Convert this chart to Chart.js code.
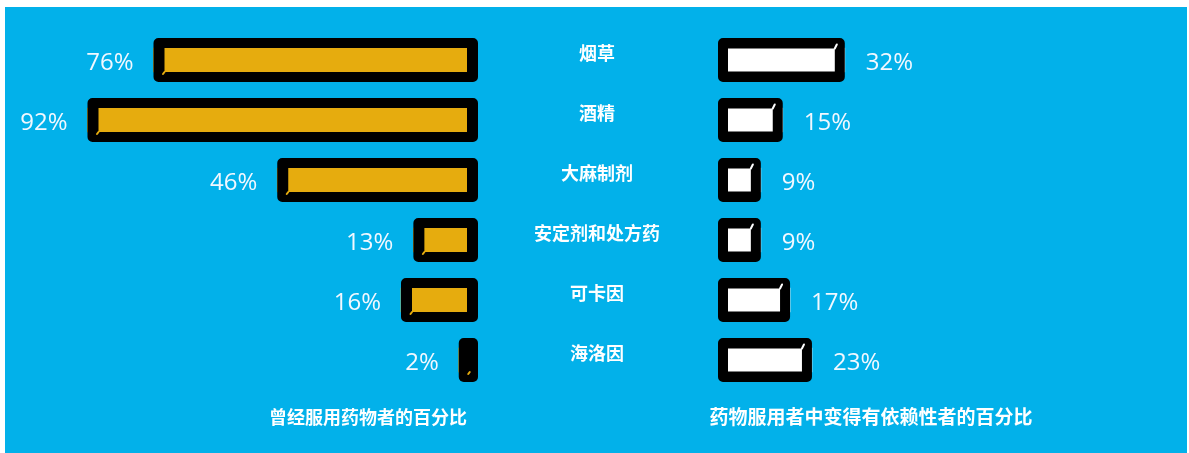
<!DOCTYPE html>
<html lang="zh-CN">
<head>
<meta charset="utf-8">
<title>药物使用与依赖</title>
<script src="https://cdn.jsdelivr.net/npm/chart.js@4.4.1/dist/chart.umd.min.js"></script>
<style>
  html, body { margin: 0; padding: 0; background: #ffffff; }
  body { width: 1189px; height: 453px; position: relative; overflow: hidden; }
  #panel { position: absolute; left: 5px; top: 7px; width: 1182px; height: 446px; background: #02b1ea; }
  canvas { position: absolute; top: 7px; }
  #leftCanvas { left: 5px; }
  #rightCanvas { left: 520px; }
</style>
</head>
<body>
<div id="panel"></div>
<canvas id="leftCanvas" width="515" height="446"></canvas>
<canvas id="rightCanvas" width="667" height="446"></canvas>
<script>
// Drug categories, top to bottom
const categories = ['烟草', '酒精', '大麻制剂', '安定剂和处方药', '可卡因', '海洛因'];
// Share of people who have ever used each drug (%)
const everUsed = [76, 92, 46, 13, 16, 2];
// Share of users who became dependent (%)
const dependent = [32, 15, 9, 9, 17, 23];
const leftTitle = '曾经服用药物者的百分比';
const rightTitle = '药物服用者中变得有依赖性者的百分比';

const ORANGE = '#e6ac0e';
const INK = '#000000';
const LABEL_FONT = "400 24px 'Open Sans', 'DejaVu Sans', sans-serif";
const CJK_FONT = "bold 18px 'Noto Sans CJK SC', sans-serif";

Chart.defaults.font.family = "'Noto Sans CJK SC', sans-serif";

// Thick marker-style frame around each bar plus its percentage label
const markerFrame = {
  id: 'markerFrame',
  afterDatasetsDraw(chart, args, opts) {
    const ctx = chart.ctx;
    const meta = chart.getDatasetMeta(0);
    const values = chart.data.datasets[0].data;
    meta.data.forEach((el, i) => {
      const lo = Math.min(el.x, el.base);
      const hi = Math.max(el.x, el.base);
      const y = el.y;
      let ox0, ox1, ix0, ix1;
      if (opts.side === 'left') {
        ox0 = lo; ox1 = hi + opts.cap;
        ix0 = lo + opts.inset; ix1 = hi;
      } else {
        ox0 = lo - opts.cap; ox1 = hi;
        ix0 = lo; ix1 = hi - opts.inset;
      }
      ctx.save();
      ctx.beginPath();
      ctx.roundRect(ox0, y - opts.outerHalf, ox1 - ox0, opts.outerHalf * 2, 5);
      if (ix1 - ix0 > 0) {
        ctx.rect(ix0, y - opts.innerHalf, ix1 - ix0, opts.innerHalf * 2);
      }
      ctx.fillStyle = INK;
      ctx.fill('evenodd');

      // little flick of the fill colour where the marker stroke starts
      ctx.strokeStyle = opts.fleck;
      ctx.lineWidth = 2;
      ctx.lineCap = 'round';
      ctx.beginPath();
      if (opts.side === 'left') {
        const fx = Math.min(ox0 + opts.inset, ox1 - 6);
        ctx.moveTo(fx, y + opts.innerHalf);
        ctx.lineTo(fx - 1.5, y + opts.innerHalf + 2);
      } else {
        ctx.moveTo(ix1, y - opts.innerHalf);
        ctx.lineTo(ix1 + 2, y - opts.innerHalf - 4);
      }
      ctx.stroke();

      // percentage label
      ctx.font = LABEL_FONT;
      ctx.fillStyle = '#f2f8ff';
      ctx.textBaseline = 'middle';
      if (opts.side === 'left') {
        ctx.textAlign = 'right';
        ctx.fillText(values[i] + '%', ox0 - 20, y + 3);
      } else {
        ctx.textAlign = 'left';
        ctx.fillText(values[i] + '%', ox1 + 21, y + 3);
      }
      ctx.restore();
    });

    // category names between the two bar groups
    if (opts.categoryX != null) {
      const yScale = chart.scales.y;
      ctx.save();
      ctx.font = CJK_FONT;
      ctx.fillStyle = '#ffffff';
      ctx.textAlign = 'center';
      ctx.textBaseline = 'middle';
      chart.data.labels.forEach((lab, i) => {
        ctx.fillText(lab, opts.categoryX, yScale.getPixelForValue(i) - 7);
      });
      ctx.restore();
    }

    // panel title under the bars
    ctx.save();
    ctx.font = opts.titleFont;
    ctx.fillStyle = '#ffffff';
    ctx.textAlign = 'center';
    ctx.textBaseline = 'middle';
    ctx.fillText(opts.title, opts.titleX, opts.titleY);
    ctx.restore();
  }
};

function barChart(canvasId, values, color, xOpts, padding, frameOpts) {
  return new Chart(document.getElementById(canvasId), {
    type: 'bar',
    data: {
      labels: categories,
      datasets: [{
        data: values,
        backgroundColor: color,
        borderWidth: 0,
        barThickness: 24
      }]
    },
    options: {
      indexAxis: 'y',
      responsive: false,
      animation: false,
      devicePixelRatio: 1,
      layout: { padding },
      scales: {
        x: Object.assign({ display: false, min: 0 }, xOpts),
        y: { display: false, offset: true }
      },
      plugins: {
        legend: { display: false },
        tooltip: { enabled: false },
        markerFrame: frameOpts
      }
    },
    plugins: [markerFrame]
  });
}

// Left group: bars grow leftwards from the centre
barChart('leftCanvas', everUsed, ORANGE,
  { reverse: true, max: 112 },
  { left: 0, right: 53, top: 23, bottom: 63 },
  { side: 'left', cap: 11, inset: 11, outerHalf: 22, innerHalf: 12, fleck: ORANGE,
    title: leftTitle, titleX: 363, titleY: 410, titleFont: CJK_FONT });

// Right group: bars grow rightwards
barChart('rightCanvas', dependent, '#ffffff',
  { max: 120 },
  { left: 208, right: 21, top: 23, bottom: 63 },
  { side: 'right', cap: 10, inset: 10, outerHalf: 22, innerHalf: 11.5, fleck: '#ffffff',
    categoryX: 77,
    title: rightTitle, titleX: 351, titleY: 410, titleFont: "bold 19px 'Noto Sans CJK SC', sans-serif" });
</script>
</body>
</html>
